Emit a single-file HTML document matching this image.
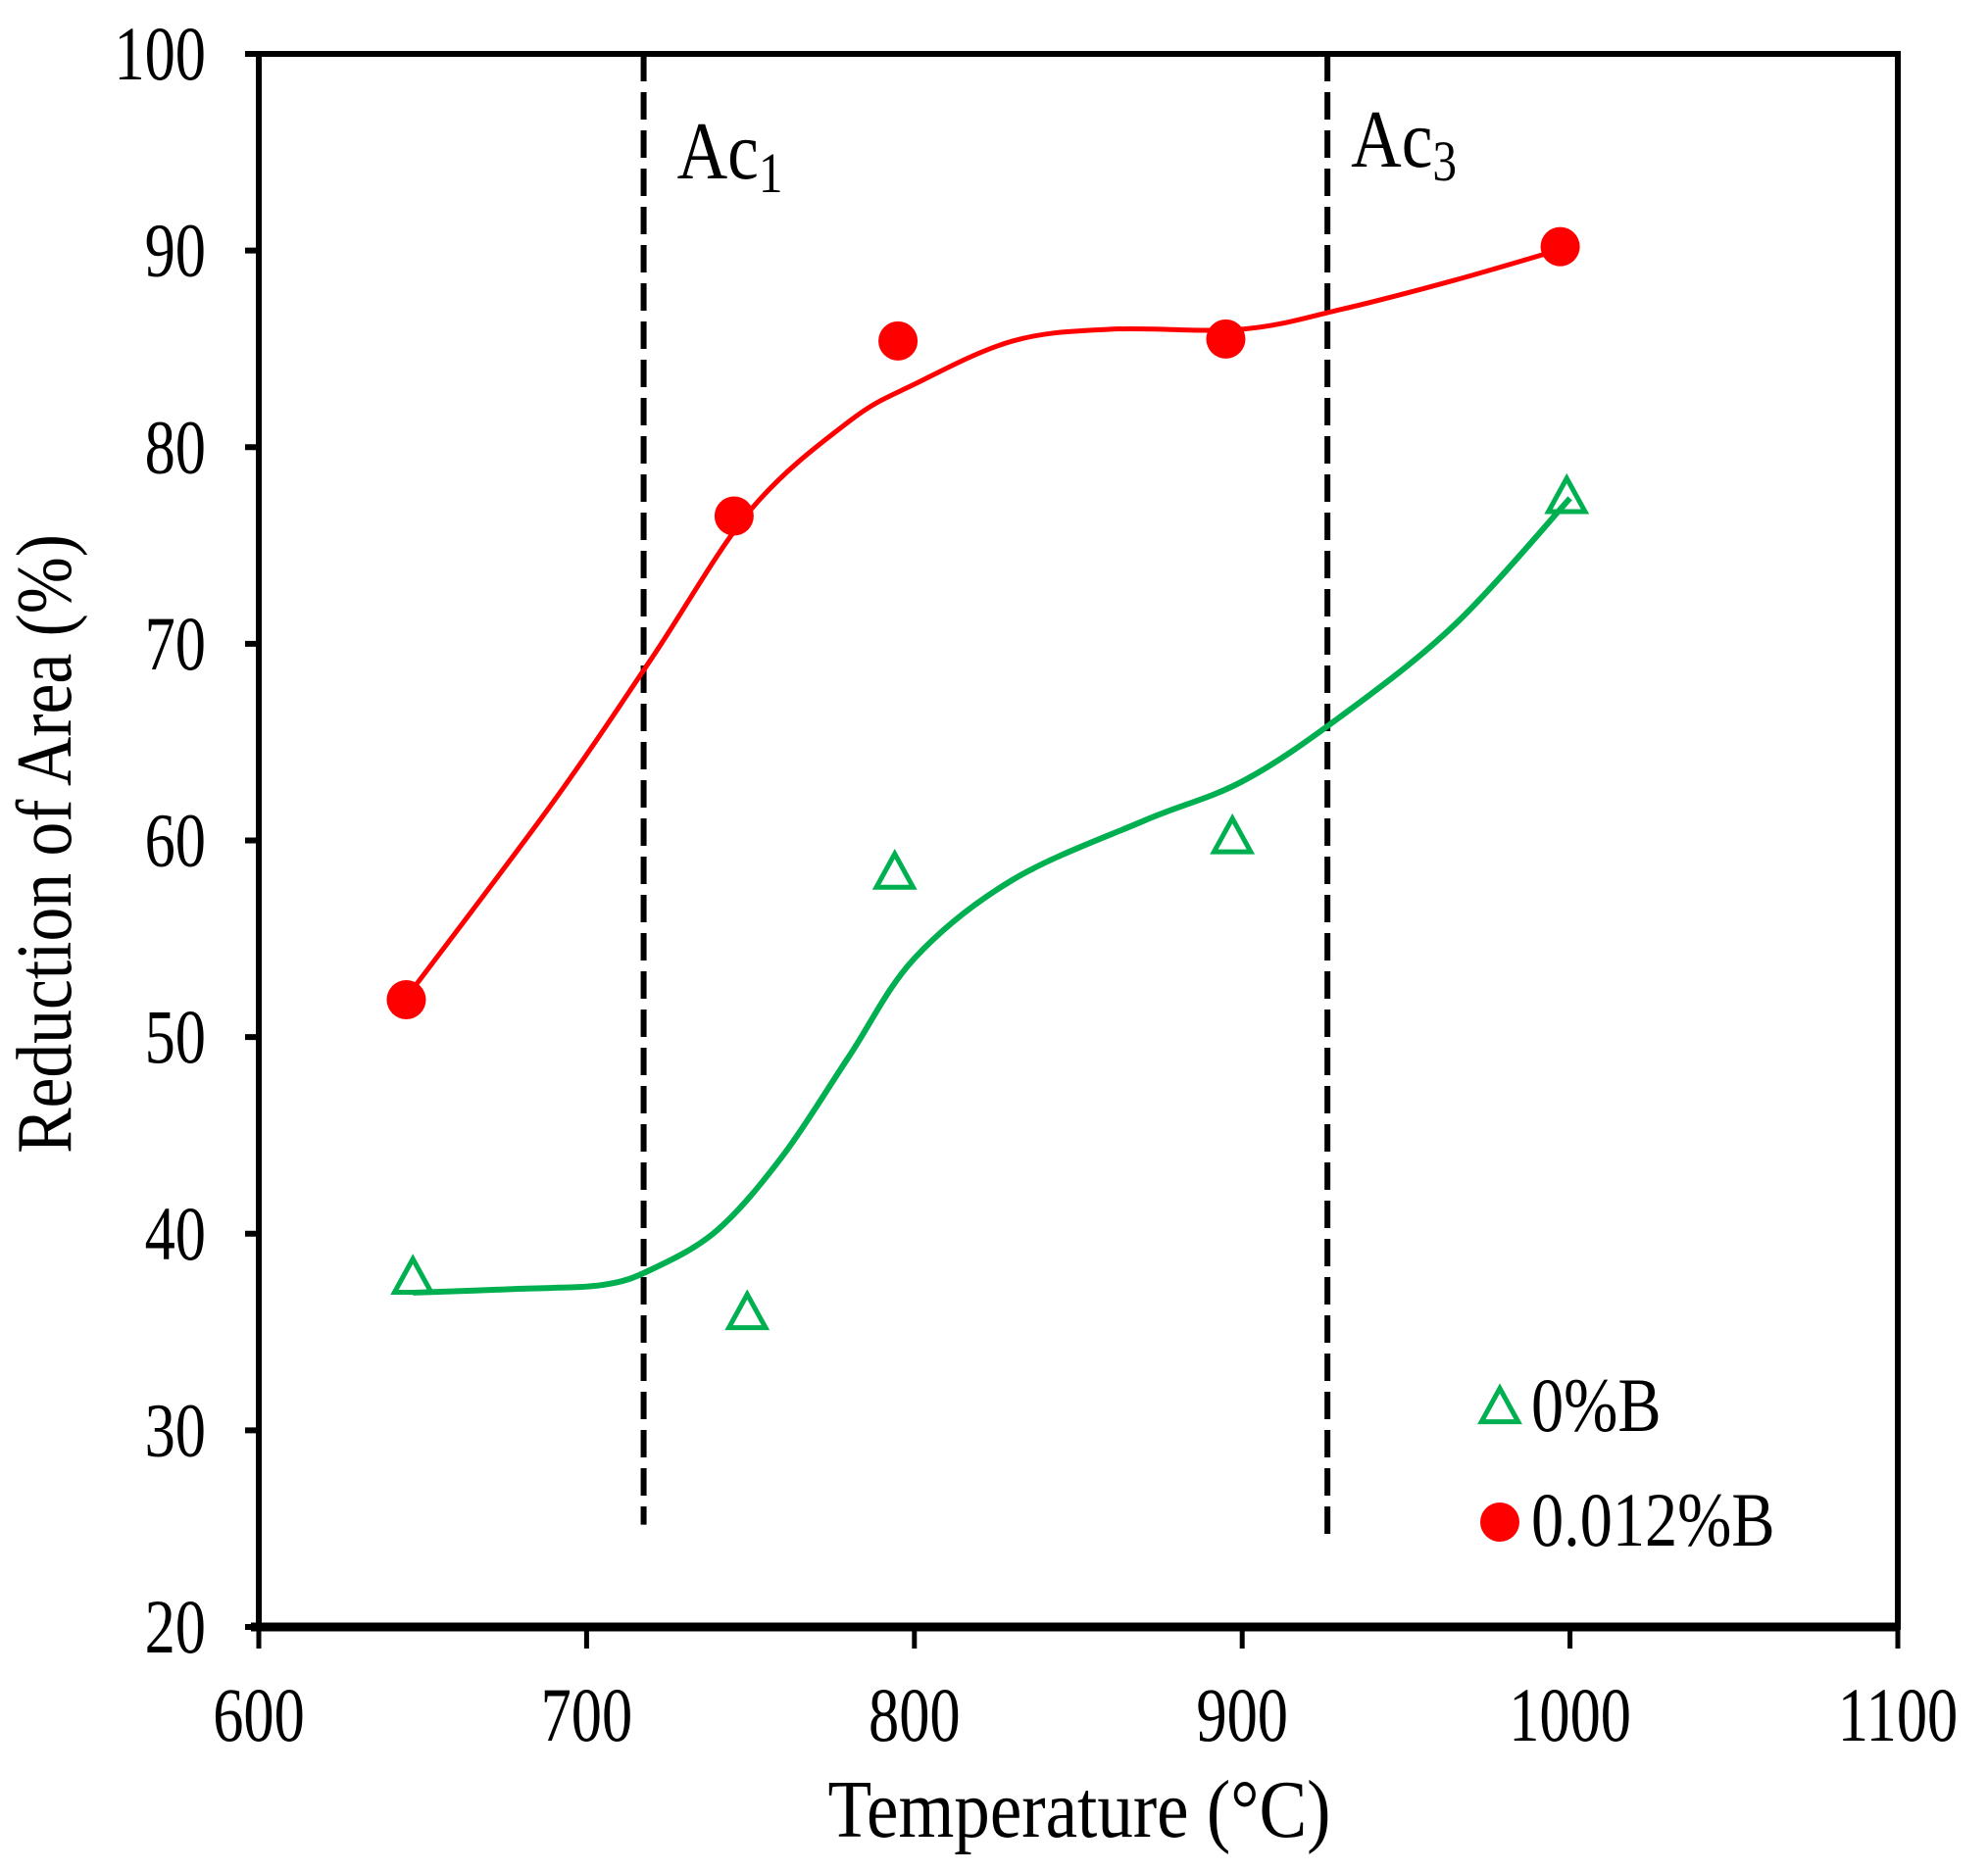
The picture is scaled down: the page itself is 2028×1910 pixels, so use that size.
<!DOCTYPE html>
<html><head><meta charset="utf-8"><style>html,body{margin:0;padding:0;background:#fff}svg{display:block}text{font-family:"Liberation Serif",serif;fill:#000}</style></head>
<body>
<svg id="chart" width="2028" height="1910" viewBox="0 0 2028 1910" xmlns="http://www.w3.org/2000/svg"></svg>
<script>
const xTicks=[600,700,800,900,1000,1100];
const yTicks=[20,30,40,50,60,70,80,90,100];
const redX=[645,745,795,895,997];
const redY=[51.9,76.5,85.4,85.5,90.2];
const greenX=[647,749,794,897,999];
const greenY=[37.7,35.9,58.3,60.1,77.4];
const redCurveX=[645,690,720,750,780,800,830,860,900,930,965,1000];
const redCurveY=[52,62,69.3,76.8,81.3,83.2,85.4,86,86,87,88.5,90.2];
const greenCurveX=[647,680,705,720,740,760,780,800,830,870,900,930,965,1000];
const greenCurveY=[37,37.2,37.4,38.2,40.2,44,49,54,58,61,63,66.3,71,77.4];
const ac1=717.4, ac3=926;

const X0=264,X1=1936,Y0=1660,Y1=55;
const sx=v=>X0+(v-600)/500*(X1-X0);
const sy=v=>Y0-(v-20)/80*(Y0-Y1);
const svg=document.getElementById('chart');
const NS='http://www.w3.org/2000/svg';
function mk(tag,attrs,parent){const e=document.createElementNS(NS,tag);for(const k in attrs)e.setAttribute(k,attrs[k]);(parent||svg).appendChild(e);return e;}
function txt(x,y,size,sxf,anchor,extra){return mk('text',Object.assign({x:0,y:0,'font-size':size,'text-anchor':anchor,transform:`translate(${x},${y}) scale(${sxf},1)`},extra||{}));}

let f=mk('rect',{x:X0,y:Y1,width:X1-X0,height:Y0-Y1,fill:'none',stroke:'#000','stroke-width':6});


let bax=mk('line',{x1:X0-8,x2:X1,y1:Y0,y2:Y0,stroke:'#000','stroke-width':9});



yTicks.forEach(t=>{
  const y=sy(t);
  const l=mk('line',{x1:X0-14,x2:X0,y1:y,y2:y,stroke:'#000','stroke-width':6});
  
  
  const tx=txt(210,y+26,78,0.8,'end');
  tx.textContent=t;
  
  
});
xTicks.forEach(t=>{
  const x=sx(t);
  const l=mk('line',{x1:x,x2:x,y1:Y0,y2:Y0+22,stroke:'#000','stroke-width':5});
  
  
  const tx=txt(x,1776,78,0.8,'middle');
  tx.textContent=t;
  
  
});

[[ac1,'ac1-line',25.2],[ac3,'ac3-line',24.7]].forEach(([v,n,b])=>{
  const l=mk('line',{x1:sx(v),x2:sx(v),y1:Y1,y2:sy(b),stroke:'#000','stroke-width':6,'stroke-dasharray':'28 11'});
  
  
});
let a1=txt(sx(ac1)+34,182,84,0.85,'start');
a1.innerHTML='Ac<tspan font-size="58" dy="14">1</tspan>';


let a3=txt(sx(ac3)+24,170,84,0.85,'start');
a3.innerHTML='Ac<tspan font-size="58" dy="14">3</tspan>';



function curve(xs,ys){
  const p=xs.map((x,i)=>[sx(x),sy(ys[i])]);
  let d='M'+p[0][0]+','+p[0][1];
  for(let i=0;i<p.length-1;i++){
    const p0=p[Math.max(0,i-1)],p1=p[i],p2=p[i+1],p3=p[Math.min(p.length-1,i+2)];
    const c1=[p1[0]+(p2[0]-p0[0])/6,p1[1]+(p2[1]-p0[1])/6];
    const c2=[p2[0]-(p3[0]-p1[0])/6,p2[1]-(p3[1]-p1[1])/6];
    d+=' C'+c1+' '+c2+' '+p2;
  }
  return d;
}
let rc=mk('path',{d:curve(redCurveX,redCurveY),fill:'none',stroke:'#ff0000','stroke-width':5});


let gc=mk('path',{d:curve(greenCurveX,greenCurveY),fill:'none',stroke:'#00b050','stroke-width':6});



function tri(cx,cy,s){return `${cx},${cy-s*0.6} ${cx-s*0.55},${cy+s*0.4} ${cx+s*0.55},${cy+s*0.4}`;}
redX.forEach((x,i)=>{
  const c=mk('circle',{cx:sx(x),cy:sy(redY[i]),r:20,fill:'#ff0000'});
  
  
});
greenX.forEach((x,i)=>{
  const t=mk('polygon',{points:tri(sx(x),sy(greenY[i]),34),fill:'none',stroke:'#00b050','stroke-width':5});
  
  
});

let lt=mk('polygon',{points:tri(1530,1437,34),fill:'none',stroke:'#00b050','stroke-width':5});


let ltx=txt(1562,1460,78,0.85,'start');
ltx.textContent='0%B';


let lc=mk('circle',{cx:1530,cy:1553,r:20,fill:'#ff0000'});


let lcx=txt(1562,1577,78,0.85,'start');
lcx.textContent='0.012%B';



let xt=txt(1101,1874,84,0.87,'middle');
xt.textContent='Temperature (°C)';


let yt=mk('text',{x:0,y:0,'font-size':80,'text-anchor':'middle',transform:'translate(72,861) rotate(-90) scale(0.87,1)'});
yt.textContent='Reduction of Area (%)';


</script>
</body></html>
